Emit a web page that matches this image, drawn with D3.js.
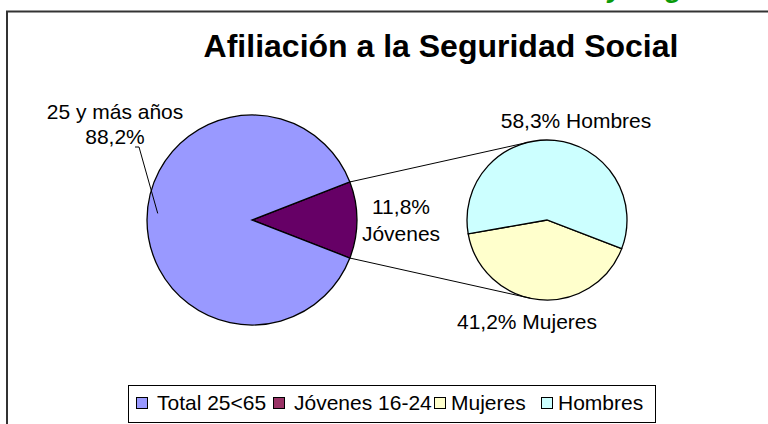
<!doctype html>
<html>
<head>
<meta charset="utf-8">
<script src="https://cdn.jsdelivr.net/npm/d3@7"></script>
<style>
  body { margin: 0; background: #fff; }
  svg { display: block; }
  text { font-family: "Liberation Sans", Arial, sans-serif; fill: #000; }
</style>
</head>
<body>
<svg id="chart" width="768" height="424"></svg>
<script>
// data
const mainCats = ["Jóvenes", "25 y más años"];
const mainVals = [11.8, 88.2];
const mainLabels = [["11,8%", "Jóvenes"], ["25 y más años", "88,2%"]];
const mainColors = ["#660066", "#9999ff"];

const subCats = ["Mujeres", "Hombres"];
const subVals = [41.2, 58.3];
const subLabels = ["41,2% Mujeres", "58,3% Hombres"];
const subColors = ["#ffffcc", "#ccffff"];

const legendNames = ["Total 25<65", "Jóvenes 16-24", "Mujeres", "Hombres"];
const legendColors = ["#9999ff", "#993366", "#ffffcc", "#ccffff"];

const svg = d3.select("#chart");
const deg = Math.PI / 180;

// page heading cut off at the top
svg.append("text")
  .attr("x", 474).attr("y", -3.5)
  .style("font-size", "28px").style("font-weight", "bold").style("font-style", "italic")
  .style("fill", "#0a9a0a")
  .text("Afiliación y Seguridad Social");

// chart frame
svg.append("rect")
  .attr("x", 7).attr("y", 11.5).attr("width", 800).attr("height", 460)
  .attr("fill", "#fff").attr("stroke", "#333").attr("stroke-width", 2);

svg.append("text")
  .attr("x", 441).attr("y", 57)
  .attr("text-anchor", "middle")
  .style("font-size", "32px").style("font-weight", "bold")
  .text("Afiliación a la Seguridad Social");

// main pie
const c1 = [252, 220], r1 = 105;
const share = mainVals[0] / d3.sum(mainVals);
const a0 = Math.PI / 2 - share * Math.PI;
const pie1 = d3.pie().sort(null).startAngle(a0).endAngle(a0 + 2 * Math.PI);
const arcs1 = pie1(mainVals);
const arc1 = d3.arc().innerRadius(0).outerRadius(r1);

const g1 = svg.append("g").attr("transform", `translate(${c1})`);
g1.selectAll("path").data(arcs1).enter().append("path")
  .attr("d", arc1)
  .attr("fill", (d, i) => mainColors[i])
  .attr("stroke", "#000").attr("stroke-width", 1.3);

// secondary pie
const c2 = [547, 220], r2 = 80;
const subShare = subVals[0] / d3.sum(subVals);
const subMid = 185.5 * deg;
const b0 = subMid - subShare * Math.PI;
const pie2 = d3.pie().sort(null).startAngle(b0).endAngle(b0 + 2 * Math.PI);
const arcs2 = pie2(subVals);
const arc2 = d3.arc().innerRadius(0).outerRadius(r2);

const g2 = svg.append("g").attr("transform", `translate(${c2})`);
g2.selectAll("path").data(arcs2).enter().append("path")
  .attr("d", arc2)
  .attr("fill", (d, i) => subColors[i])
  .attr("stroke", "#000").attr("stroke-width", 1.3);

// connector lines between the pies
function pt(c, r, a) { return [c[0] + r * Math.sin(a), c[1] - r * Math.cos(a)]; }
const joins = [
  [pt(c1, r1, arcs1[0].startAngle), pt(c2, r2, -15 * deg)],
  [pt(c1, r1, arcs1[0].endAngle), pt(c2, r2, 192 * deg)]
];
svg.selectAll("line.join").data(joins).enter().append("line")
  .attr("class", "join")
  .attr("x1", d => d[0][0]).attr("y1", d => d[0][1])
  .attr("x2", d => d[1][0]).attr("y2", d => d[1][1])
  .attr("stroke", "#000").attr("stroke-width", 1);

// data labels
const labelFont = "21px";
const lbl1 = [{x: 401, y: 214, dy: 27}, {x: 115, y: 119, dy: 25}];
mainLabels.forEach((lines, i) => {
  const t = svg.append("text").attr("text-anchor", "middle").style("font-size", labelFont);
  lines.forEach((s, j) => {
    t.append("tspan").attr("x", lbl1[i].x).attr("y", lbl1[i].y + j * lbl1[i].dy).text(s);
  });
});

// leader for the big slice label
const big = arcs1[1];
const mid = (big.startAngle + big.endAngle) / 2 + 4 * deg;
const tip = pt(c1, r1 * 0.9, mid);
svg.append("polyline")
  .attr("points", [[135, 147], [139, 147], tip].join(" "))
  .attr("fill", "none").attr("stroke", "#000").attr("stroke-width", 1);

const lbl2 = [{x: 527, y: 329}, {x: 576, y: 128}];
subLabels.forEach((s, i) => {
  svg.append("text")
    .attr("x", lbl2[i].x).attr("y", lbl2[i].y)
    .attr("text-anchor", "middle").style("font-size", labelFont)
    .text(s);
});

// legend
svg.append("rect")
  .attr("x", 128.5).attr("y", 385.5).attr("width", 527).attr("height", 37)
  .attr("fill", "#fff").attr("stroke", "#000").attr("stroke-width", 1);

const legendX = [136, 273, 434, 541];
const leg = svg.selectAll("g.leg").data(legendNames).enter().append("g")
  .attr("class", "leg")
  .attr("transform", (d, i) => `translate(${legendX[i]},397)`);
leg.append("rect")
  .attr("x", 0.5).attr("y", 0.5).attr("width", 11).attr("height", 11)
  .attr("fill", (d, i) => legendColors[i]).attr("stroke", "#000").attr("stroke-width", 1);
leg.append("text")
  .attr("x", (d, i) => i < 2 ? 21 : 17).attr("y", 12.5)
  .style("font-size", labelFont)
  .text(d => d);
</script>
</body>
</html>
